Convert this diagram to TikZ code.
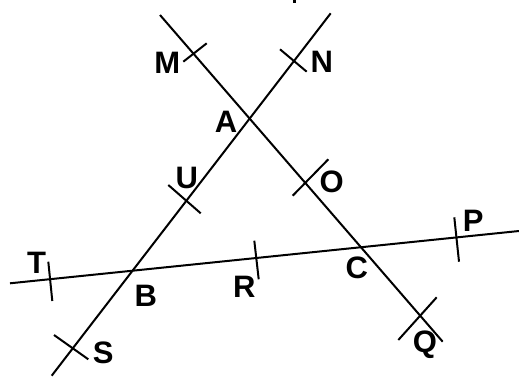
\documentclass[tikz,border=0pt]{standalone}
\usepackage{fontspec}
\setmainfont{Liberation Sans}
\usepackage{tikz}
\usetikzlibrary{calc}

\begin{document}
\begin{tikzpicture}[x=1pt, y=-1pt, line width=2pt,
        lbl/.style={font=\fontsize{31}{33}\selectfont\bfseries, inner sep=0pt}]
        \useasboundingbox (0,0) rectangle (519,377);
        % Pontos das retas
        \coordinate (l1a) at (160,15);
        \coordinate (l1b) at (442.7,341.7);
        \coordinate (l2a) at (330.7,13.3);
        \coordinate (l2b) at (51.7,375.7);
        \coordinate (l3a) at (10,283.3);
        \coordinate (l3b) at (519,231);
        % Retas
        \draw (l1a) -- (l1b);
        \draw (l2a) -- (l2b);
        \draw (l3a) -- (l3b);
        % Marcas
        \draw (183.3,61.7) -- (206.7,43.3);
        \draw (280,49.3) -- (306.7,71.7);
        \draw (168.3,185) -- (200.7,213.3);
        \draw (292.7,195.7) -- (328.3,159.3);
        \draw (48.3,261.7) -- (52.3,301);
        \draw (254.3,240.7) -- (258.7,279.3);
        \draw (454.3,217.3) -- (459,261.7);
        \draw (54,335) -- (88.3,359.3);
        \draw (398.3,340) -- (436.7,297.3);
        % Resto de texto cortado no topo
        \fill (292.5,0) rectangle (296,3.5);
        % Rótulos
        \node[lbl] (labM) at (167.3,62.7) {M};
        \node[lbl] (labN) at (321.7,61.7) {N};
        \node[lbl] (labA) at (226,121.7) {A};
        \node[lbl] (labU) at (186.7,178.3) {U};
        \node[lbl] (labO) at (331.7,182.3) {O};
        \node[lbl] (labP) at (473.3,221) {P};
        \node[lbl] (labC) at (356.7,268.3) {C};
        \node[lbl] (labR) at (244.3,286.7) {R};
        \node[lbl] (labT) at (36.7,262.7) {T};
        \node[lbl] (labB) at (145.7,296) {B};
        \node[lbl] (labS) at (103.3,352.7) {S};
        \node[lbl] (labQ) at (425,345) {Q};
    \end{tikzpicture}
\end{document}
